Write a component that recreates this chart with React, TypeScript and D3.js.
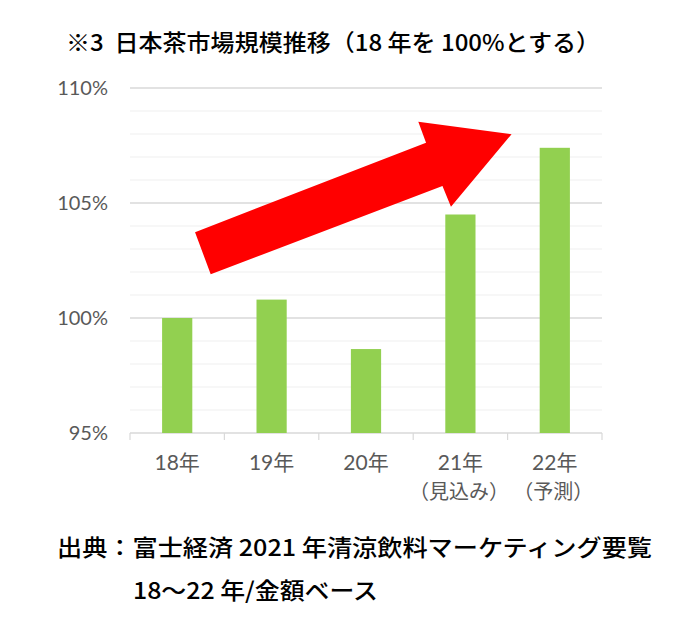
import React from 'react';
import * as d3 from 'd3';

// 日本茶市場規模推移 (18年 = 100%)
const categories = ['18年', '19年', '20年', '21年', '22年'];
const subLabels = ['', '', '', '（見込み）', '（予測）'];
const values = [100.0, 100.8, 98.65, 104.5, 107.4];
const yTicks = [95, 100, 105, 110];

// trend arrow outline, in (category position, percent) units
const arrowPts: [number, number][] = [
  [0.855, 101.9],
  [0.689, 103.73],
  [3.136, 107.62],
  [3.054, 108.53],
  [4.042, 107.99],
  [3.4, 104.84],
  [3.31, 105.74],
];

const title = '※3  日本茶市場規模推移（18 年を 100%とする）';
const source1 = '出典：富士経済 2021 年清涼飲料マーケティング要覧';
const source2 = '18～22 年/金額ベース';

const W = 690;
const H = 630;
const margin = { top: 88, right: 88, bottom: 197, left: 130 };

const App: React.FC = () => {
  const x = d3.scaleBand<string>()
    .domain(categories)
    .range([margin.left, W - margin.right])
    .paddingInner(0.68)
    .paddingOuter(0.34);

  const xPos = d3.scaleLinear()
    .domain([0, categories.length])
    .range([margin.left, W - margin.right]);

  const y = d3.scaleLinear()
    .domain([95, 110])
    .range([H - margin.bottom, margin.top]);

  const gridVals = d3.range(95, 111, 1);
  const arrowPath = d3.line()(arrowPts.map(([a, b]) => [xPos(a), y(b)] as [number, number])) + 'Z';

  const cjk = '"Noto Sans CJK JP", "Noto Sans", sans-serif';
  const axisFont = 'Lato, "Noto Sans CJK JP", sans-serif';

  return (
    <div style={{ position: 'absolute', left: 0, top: 0 }}>
      <svg width={W} height={H} style={{ display: 'block', background: '#fff' }}>
        {/* title */}
        <text x={66} y={51} fontFamily={cjk} fontSize={23} fontWeight={500} fill="#000"
          textLength={534} lengthAdjust="spacingAndGlyphs" style={{ whiteSpace: 'pre' }}>
          {title}
        </text>

        {/* gridlines */}
        {gridVals.map(v => (
          <line key={v} x1={margin.left} x2={W - margin.right} y1={y(v)} y2={y(v)}
            stroke={v % 5 === 0 ? '#d9d9d9' : '#f0f0f0'} strokeWidth={v % 5 === 0 ? 1.5 : 1.2} />
        ))}

        {/* y labels */}
        {yTicks.map(v => (
          <text key={v} x={108} y={y(v)} dy="0.36em" textAnchor="end"
            fontFamily={axisFont} fontSize={20} fill="#595959">
            {v}%
          </text>
        ))}

        {/* bars */}
        {categories.map((c, i) => (
          <rect key={c} x={x(c)} y={y(values[i])} width={x.bandwidth()}
            height={y(95) - y(values[i])} fill="#92d050" />
        ))}

        {/* x axis ticks */}
        {d3.range(categories.length + 1).map(i => (
          <line key={i} x1={xPos(i)} x2={xPos(i)} y1={y(95)} y2={y(95) + 7}
            stroke="#d9d9d9" strokeWidth={1.2} />
        ))}

        {/* x labels */}
        {categories.map((c, i) => (
          <g key={c}>
            <text x={(x(c) || 0) + x.bandwidth() / 2} y={470} textAnchor="middle"
              fontFamily={axisFont} fontSize={21} fill="#595959">
              {c}
            </text>
            {subLabels[i] && (
              <text x={(x(c) || 0) + x.bandwidth() / 2 - 1.5} y={499} textAnchor="middle"
                fontFamily={cjk} fontSize={20} fill="#595959">
                {subLabels[i]}
              </text>
            )}
          </g>
        ))}

        {/* trend arrow */}
        <path d={arrowPath} fill="#ff0000" />

        {/* source */}
        <text x={57} y={556} fontFamily={cjk} fontSize={23} fontWeight={500} fill="#000"
          textLength={595} lengthAdjust="spacingAndGlyphs">
          {source1}
        </text>
        <text x={133} y={599} fontFamily={cjk} fontSize={23} fontWeight={500} fill="#000"
          textLength={245} lengthAdjust="spacingAndGlyphs">
          {source2}
        </text>
      </svg>
    </div>
  );
};

export default App;
